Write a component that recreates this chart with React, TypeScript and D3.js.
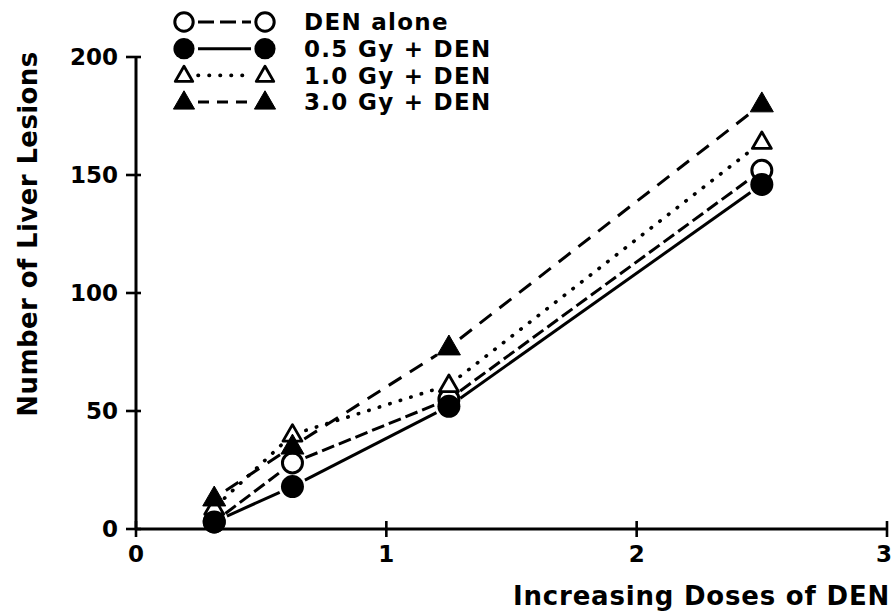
import React from "react";
import * as d3 from "d3";

// DEN dose levels (x) and lesion counts per treatment group
const doses = [0.3125, 0.625, 1.25, 2.5];
const denAlone = [3, 28, 55, 152];
const gy05 = [3, 18, 52, 146];
const gy10 = [9, 40, 61, 164];
const gy30 = [13, 35, 77, 180];

const xTicks = [0, 1, 2, 3];
const yTicks = [0, 50, 100, 150, 200];

const seriesLabels = ["DEN alone", "0.5 Gy + DEN", "1.0 Gy + DEN", "3.0 Gy + DEN"];

type Style = { marker: "circle" | "triangle"; filled: boolean; dash: string | null; cap: "butt" | "round"; width: number };

const styles: Style[] = [
  { marker: "circle", filled: false, dash: "13,5", cap: "butt", width: 3 },
  { marker: "circle", filled: true, dash: null, cap: "butt", width: 3 },
  { marker: "triangle", filled: false, dash: "0.5,10.5", cap: "round", width: 3.6 },
  { marker: "triangle", filled: true, dash: "15,10", cap: "butt", width: 3 },
];

const W = 896;
const H = 615;
const FONT = "'DejaVu Sans', sans-serif";

const x = d3.scaleLinear().domain([0, 3]).range([136, 887]);
const y = d3.scaleLinear().domain([0, 200]).range([529, 57]);

const triPath = (side: number) => d3.symbol(d3.symbolTriangle, (Math.sqrt(3) / 4) * side * side)() as string;

function Marker({ cx, cy, s, scale = 1 }: { cx: number; cy: number; s: Style; scale?: number }) {
  if (s.marker === "circle") {
    return s.filled ? (
      <circle cx={cx} cy={cy} r={11.5 * scale} fill="#000" />
    ) : (
      <circle cx={cx} cy={cy} r={10 * scale} fill="#fff" stroke="#000" strokeWidth={3} />
    );
  }
  return s.filled ? (
    <path d={triPath(23 * scale)} transform={`translate(${cx},${cy + 1})`} fill="#000" stroke="#000" strokeWidth={1} strokeLinejoin="round" />
  ) : (
    <path d={triPath(19 * scale)} transform={`translate(${cx},${cy + 1})`} fill="#fff" stroke="#000" strokeWidth={2.8} strokeLinejoin="round" />
  );
}

// segment between two points, trimmed so it stops short of the markers
function trimmed(x1: number, y1: number, x2: number, y2: number, gap: number) {
  const dx = x2 - x1;
  const dy = y2 - y1;
  const len = Math.hypot(dx, dy);
  if (len <= gap * 2) return null;
  const ux = dx / len;
  const uy = dy / len;
  return { x1: x1 + ux * gap, y1: y1 + uy * gap, x2: x2 - ux * gap, y2: y2 - uy * gap };
}

export default function App() {
  const series = [denAlone, gy05, gy10, gy30];
  const drawOrder = [0, 2, 3, 1];

  const legendRows = [22, 48.7, 75.4, 102];
  const legendLeft = 184;
  const legendRight = 265;
  const legendText = 304;

  return (
    <svg width={W} height={H} style={{ position: "absolute", left: 0, top: 0, background: "#fff" }} fontFamily={FONT}>
      <rect width={W} height={H} fill="#fff" />

      {/* axes */}
      <line x1={x(0)} x2={x(3)} y1={y(0)} y2={y(0)} stroke="#000" strokeWidth={3} />
      <line x1={x(0)} x2={x(0)} y1={y(0)} y2={y(200)} stroke="#000" strokeWidth={3} />
      {yTicks.map((t) => (
        <g key={"y" + t}>
          <line x1={x(0) - 10} x2={x(0) + 5} y1={y(t)} y2={y(t)} stroke="#000" strokeWidth={2.6} />
          <text x={118} y={y(t)} dy="0.36em" textAnchor="end" fontSize={23} fontWeight="bold">
            {t}
          </text>
        </g>
      ))}
      {xTicks.map((t) => (
        <g key={"x" + t}>
          <line x1={x(t)} x2={x(t)} y1={y(0) - 8} y2={y(0) + 8} stroke="#000" strokeWidth={2.6} />
          <text x={x(t) - (t === 3 ? 3 : 0)} y={562} textAnchor="middle" fontSize={23} fontWeight="bold">
            {t}
          </text>
        </g>
      ))}

      <text x={890} y={605} textAnchor="end" fontSize={26} fontWeight="bold" letterSpacing={0.8}>
        Increasing Doses of DEN
      </text>
      <text transform={`translate(37,234) rotate(-90)`} textAnchor="middle" fontSize={26} fontWeight="bold" letterSpacing={0.4}>
        Number of Liver Lesions
      </text>

      {/* connecting lines */}
      {drawOrder.map((si) => {
        const s = styles[si];
        const vals = series[si];
        return (
          <g key={"l" + si}>
            {vals.slice(1).map((v, i) => {
              const seg = trimmed(x(doses[i]), y(vals[i]), x(doses[i + 1]), y(v), 14);
              if (!seg) return null;
              return (
                <line
                  key={i}
                  {...seg}
                  stroke="#000"
                  strokeWidth={s.width}
                  strokeDasharray={s.dash ?? undefined}
                  strokeLinecap={s.cap}
                />
              );
            })}
          </g>
        );
      })}

      {/* markers */}
      {drawOrder.map((si) => (
        <g key={"m" + si}>
          {series[si].map((v, i) => (
            <Marker key={i} cx={x(doses[i])} cy={y(v)} s={styles[si]} />
          ))}
        </g>
      ))}

      {/* legend */}
      {seriesLabels.map((label, i) => {
        const s = styles[i];
        const ry = legendRows[i];
        return (
          <g key={"lg" + i}>
            <line
              x1={legendLeft + 14}
              x2={legendRight - 14}
              y1={ry}
              y2={ry}
              stroke="#000"
              strokeWidth={s.width}
              strokeDasharray={i === 0 ? "16,6" : i === 3 ? "11,8" : s.dash ?? undefined}
              strokeLinecap={s.cap}
            />
            <Marker cx={legendLeft} cy={ry} s={s} scale={0.92} />
            <Marker cx={legendRight} cy={ry} s={s} scale={0.92} />
            <text x={legendText} y={ry} dy="0.36em" fontSize={23} fontWeight="bold" letterSpacing={1.3}>
              {label}
            </text>
          </g>
        );
      })}
    </svg>
  );
}
